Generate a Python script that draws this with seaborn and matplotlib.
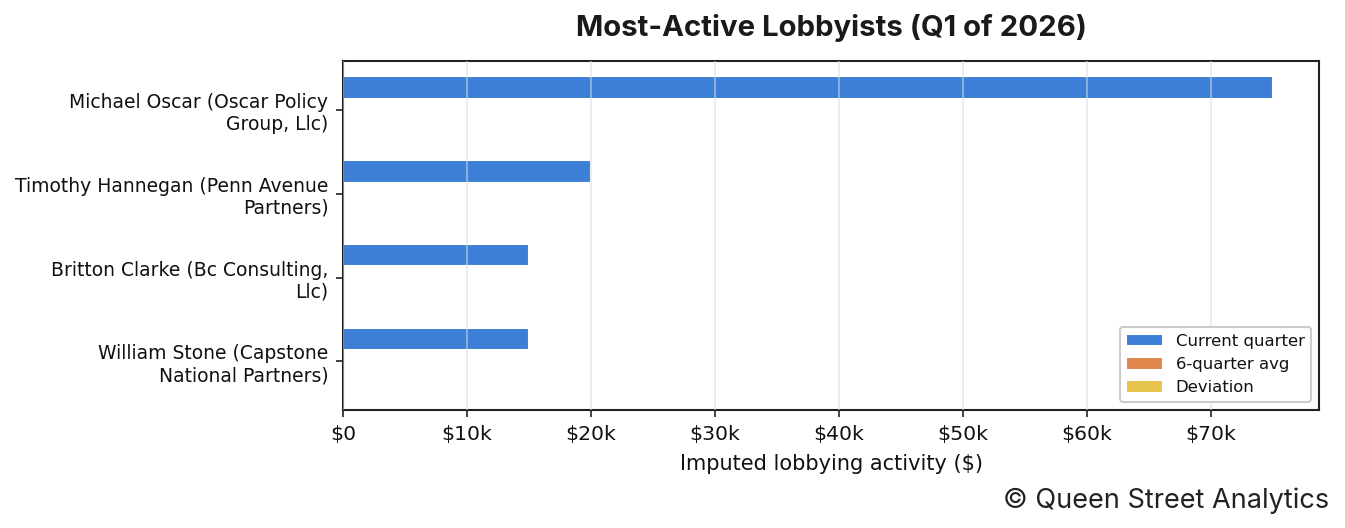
import pandas as pd
import numpy as np
import matplotlib.pyplot as plt
import seaborn as sns
from matplotlib.ticker import FuncFormatter

# -------- Data --------
lobbyists = [
    "Michael Oscar (Oscar Policy\nGroup, Llc)",
    "Timothy Hannegan (Penn Avenue\nPartners)",
    "Britton Clarke (Bc Consulting,\nLlc)",
    "William Stone (Capstone\nNational Partners)",
]
series_names = ["Current quarter", "6-quarter avg", "Deviation"]
current_quarter = [75000, 20000, 15000, 15000]
six_quarter_avg = [0, 0, 0, 0]
deviation = [0, 0, 0, 0]
palette = ["#3d7fd6", "#e0854c", "#e6c34a"]

df = pd.DataFrame({
    "Lobbyist": lobbyists * 3,
    "Series": np.repeat(series_names, len(lobbyists)),
    "Value": current_quarter + six_quarter_avg + deviation,
})

# -------- Plot --------
sns.set_style("white")
plt.rcParams["font.family"] = ["DejaVu Sans"]

fig, ax = plt.subplots(figsize=(8.967, 3.52), dpi=150)
fig.subplots_adjust(left=0.255, right=0.981, top=0.884, bottom=0.2235)

sns.barplot(data=df, y="Lobbyist", x="Value", hue="Series", orient="h",
            palette=palette, width=0.8, saturation=1, ax=ax)

ax.set_xlim(0, max(current_quarter) * 1.05)
ax.set_ylim(len(lobbyists) - 1 + 0.58, -0.58)
ax.xaxis.set_major_formatter(FuncFormatter(lambda v, p: "$0" if v == 0 else f"${v/1000:.0f}k"))

ax.grid(True, axis="x", color="#dddddd", linewidth=1, alpha=0.5)
ax.set_axisbelow(False)
for s in ax.spines.values():
    s.set_color("#222222")
    s.set_linewidth(1.0)
    s.set_visible(True)
ax.tick_params(axis="both", which="both", left=True, bottom=True, length=3.5,
               color="#222222", labelcolor="#111111")
ax.tick_params(axis="y", labelsize=9.0)
ax.tick_params(axis="x", labelsize=9.8)

ax.set_ylabel("")
ax.set_xlabel("Imputed lobbying activity ($)", fontsize=10, color="#111111", labelpad=5)

ax.legend(loc="lower right", fontsize=7.9, frameon=True, edgecolor="#cccccc",
          fancybox=True, framealpha=1, handlelength=2.2, handleheight=0.8,
          labelcolor="#111111")

ax.set_title("Most-Active Lobbyists (Q1 of 2026)", family=["Inter", "DejaVu Sans"],
             fontweight="bold", fontsize=14.1, color="#1a1a1a", pad=12)
fig.text(0.988, 0.026, "\u00a9 Queen Street Analytics", ha="right", va="bottom",
         family=["Inter", "DejaVu Sans"], fontsize=13, color="#222222")

fig.savefig("out.png", dpi=150)
